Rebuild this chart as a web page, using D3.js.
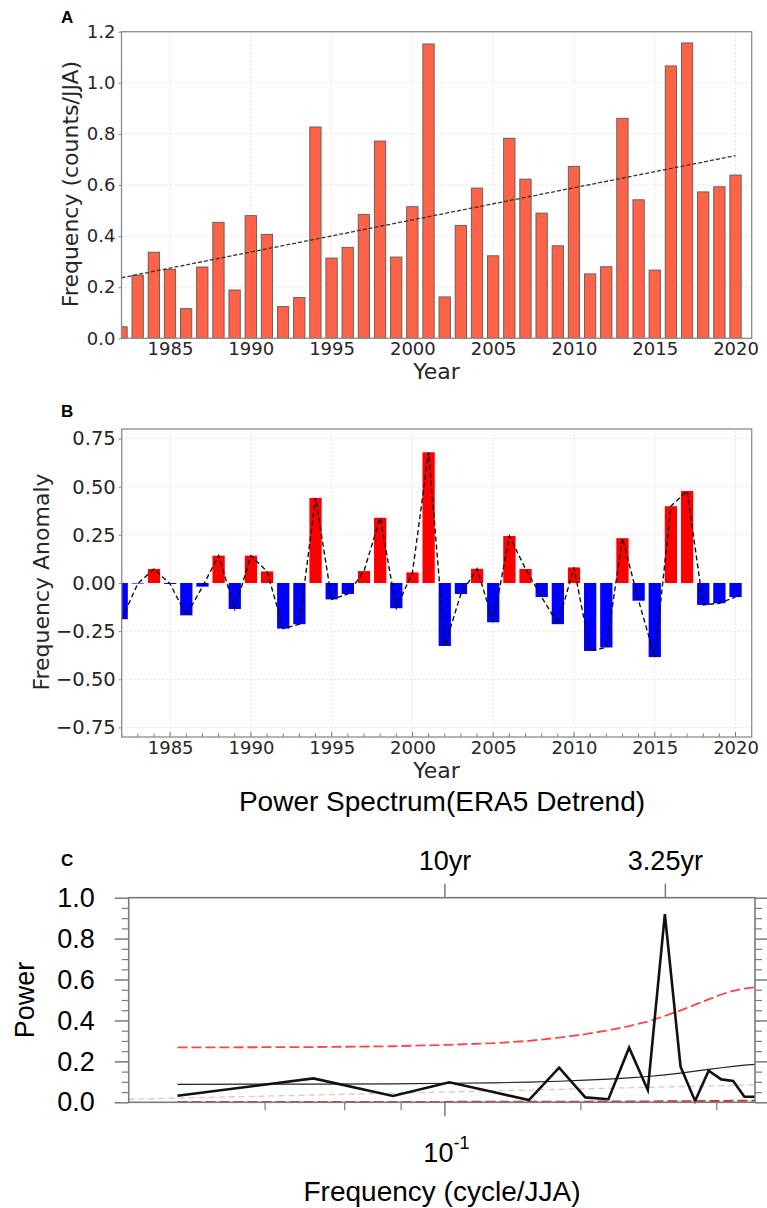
<!DOCTYPE html>
<html>
<head>
<meta charset="utf-8">
<script src="https://cdn.jsdelivr.net/npm/d3@7"></script>
<style>
  body { margin: 0; background: #fff; }
  svg { display: block; }
</style>
</head>
<body>
<svg id="chart" width="767" height="1208"></svg>
<script>
  // ===== 数据 =====
  var years = [1982, 1983, 1984, 1985, 1986, 1987, 1988, 1989, 1990, 1991, 1992, 1993, 1994,
    1995, 1996, 1997, 1998, 1999, 2000, 2001, 2002, 2003, 2004, 2005, 2006, 2007, 2008,
    2009, 2010, 2011, 2012, 2013, 2014, 2015, 2016, 2017, 2018, 2019, 2020];

  // A: 频次 (counts/JJA)
  var freqA = [0.045, 0.247, 0.337, 0.270, 0.116, 0.279, 0.454, 0.189, 0.480, 0.407, 0.124, 0.160, 0.827,
    0.314, 0.356, 0.485, 0.772, 0.318, 0.515, 1.152, 0.162, 0.442, 0.588, 0.323, 0.783, 0.623, 0.490,
    0.362, 0.673, 0.252, 0.280, 0.861, 0.542, 0.267, 1.066, 1.156, 0.573, 0.593, 0.639];
  var trendYears = [1982, 2020];
  var trendVals = [0.237, 0.715];

  // B: 去趋势距平
  var anomB = [-0.188, -0.003, 0.073, -0.005, -0.168, -0.019, 0.142, -0.135, 0.142, 0.060, -0.237, -0.214, 0.442,
    -0.085, -0.057, 0.062, 0.339, -0.131, 0.055, 0.679, -0.327, -0.057, 0.074, -0.204, 0.244, 0.073, -0.073,
    -0.214, 0.081, -0.353, -0.335, 0.233, -0.092, -0.385, 0.399, 0.478, -0.114, -0.105, -0.073];

  var yearTicks = [1985, 1990, 1995, 2000, 2005, 2010, 2015, 2020];
  var yTicksA = [0, 0.2, 0.4, 0.6, 0.8, 1.0, 1.2];
  var yTicksB = [-0.75, -0.5, -0.25, 0, 0.25, 0.5, 0.75];

  // C: 功率谱
  var nYears = 39;
  var harmonics = [1, 2, 3, 4, 5, 6, 7, 8, 9, 10, 11, 12, 13, 14, 15, 16, 17, 18, 19];
  var power = [0.032, 0.117, 0.031, 0.098, 0.050, 0.011, 0.169, 0.024, 0.015, 0.267,
    0.060, 0.920, 0.174, 0.006, 0.154, 0.112, 0.104, 0.027, 0.027];
  var redNoise = [0.088, 0.089, 0.090, 0.093, 0.095, 0.099, 0.103, 0.108, 0.113, 0.119,
    0.126, 0.134, 0.143, 0.152, 0.161, 0.169, 0.176, 0.182, 0.185];
  var upper95 = [0.268, 0.270, 0.274, 0.281, 0.289, 0.300, 0.316, 0.333, 0.352, 0.372,
    0.395, 0.422, 0.449, 0.477, 0.503, 0.527, 0.545, 0.556, 0.562];
  var lower5 = [0.002, 0.002, 0.002, 0.002, 0.003, 0.003, 0.003, 0.003, 0.004, 0.004,
    0.004, 0.005, 0.005, 0.005, 0.006, 0.006, 0.007, 0.007, 0.008];
  var grayFreq = [0.02, 19 / 39];
  var grayVals = [0.015, 0.085];
  var periodTicks = [10, 3.25];
  var periodLabels = ['10yr', '3.25yr'];
  var yTicksC = [0, 0.2, 0.4, 0.6, 0.8, 1.0];
  var minorFreqTicks = [0.04, 0.06, 0.08, 0.2, 0.4];

  var MPL_FONT = '"DejaVu Sans", sans-serif';
  var NCL_FONT = '"Liberation Sans", Arial, sans-serif';
  var TXT = '#262626';
  var FRAME = '#8c8c8c';

  var svg = d3.select('#chart');

  // 面板标签
  [['A', 23], ['B', 417], ['C', 866]].forEach(function (p) {
    svg.append('text').attr('x', 61).attr('y', p[1]).text(p[0])
      .style('font-family', NCL_FONT).style('font-weight', 'bold').style('font-size', '17px');
  });

  // ===== 面板 A / B 共用 =====
  function matplotlibFrame(g, x, y, yTicks, yFmt, yFont, clipId) {
    var x0 = x.range()[0], x1 = x.range()[1];
    var y0 = y.range()[0], y1 = y.range()[1];

    // 网格
    g.append('g').selectAll('line').data(yearTicks).join('line')
      .attr('x1', function (d) { return x(d); }).attr('x2', function (d) { return x(d); })
      .attr('y1', y0).attr('y2', y1)
      .attr('stroke', '#dcdcdc').attr('stroke-width', 0.8).attr('stroke-dasharray', '2,2');
    g.append('g').selectAll('line').data(yTicks).join('line')
      .attr('x1', x0).attr('x2', x1)
      .attr('y1', function (d) { return y(d); }).attr('y2', function (d) { return y(d); })
      .attr('stroke', '#dcdcdc').attr('stroke-width', 0.8).attr('stroke-dasharray', '2,2');

    g.append('clipPath').attr('id', clipId).append('rect')
      .attr('x', x0).attr('y', y1).attr('width', x1 - x0).attr('height', y0 - y1);

    // x 轴
    var xa = g.append('g').attr('transform', 'translate(0,' + y0 + ')')
      .call(d3.axisBottom(x).tickValues(yearTicks).tickFormat(d3.format('d')).tickSize(0));
    xa.select('.domain').remove();
    xa.selectAll('text').attr('dy', null).attr('y', 16.5)
      .attr('fill', TXT).style('font-family', MPL_FONT).style('font-size', '18px');

    // y 轴
    var ya = g.append('g').attr('transform', 'translate(' + x0 + ',0)')
      .call(d3.axisLeft(y).tickValues(yTicks).tickFormat(d3.format(yFmt)).tickSize(3).tickPadding(3));
    ya.select('.domain').remove();
    ya.selectAll('line').attr('stroke', FRAME);
    ya.selectAll('text').attr('fill', TXT).style('font-family', MPL_FONT).style('font-size', yFont);
  }

  function drawFrame(g, x, y) {
    var x0 = x.range()[0], x1 = x.range()[1];
    var y0 = y.range()[0], y1 = y.range()[1];
    g.append('rect').attr('x', x0).attr('y', y1).attr('width', x1 - x0).attr('height', y0 - y1)
      .attr('fill', 'none').attr('stroke', FRAME).attr('stroke-width', 1.3);
  }

  // ===== 面板 A =====
  var xA = d3.scaleLinear().domain([1982, 2021]).range([121.5, 751.7]);
  var yA = d3.scaleLinear().domain([0, 1.2]).range([338.3, 31.7]);
  var gA = svg.append('g');
  matplotlibFrame(gA, xA, yA, yTicksA, '.1f', '18px', 'clipA');

  var bwA = 0.7;
  gA.append('g').attr('clip-path', 'url(#clipA)')
    .selectAll('rect').data(years).join('rect')
    .attr('x', function (d) { return xA(d - bwA / 2); })
    .attr('width', xA(bwA) - xA(0))
    .attr('y', function (d, i) { return yA(freqA[i]); })
    .attr('height', function (d, i) { return yA(0) - yA(freqA[i]); })
    .attr('fill', '#ff6347').attr('stroke', '#5a5a5a').attr('stroke-width', 0.9);

  gA.append('line')
    .attr('x1', xA(trendYears[0])).attr('y1', yA(trendVals[0]))
    .attr('x2', xA(trendYears[1])).attr('y2', yA(trendVals[1]))
    .attr('stroke', '#333').attr('stroke-width', 1.3).attr('stroke-dasharray', '4,2');

  drawFrame(gA, xA, yA);

  gA.append('text').attr('x', 436.5).attr('y', 379).attr('text-anchor', 'middle')
    .attr('fill', TXT).style('font-family', MPL_FONT).style('font-size', '22px').text('Year');
  gA.append('text').attr('transform', 'translate(78,184) rotate(-90)').attr('text-anchor', 'middle')
    .attr('fill', TXT).style('font-family', MPL_FONT).style('font-size', '22px').text('Frequency (counts/JJA)');

  // ===== 面板 B =====
  var xB = d3.scaleLinear().domain([1982, 2021]).range([121.7, 751.7]);
  var yB = d3.scaleLinear().domain([-0.8, 0.8]).range([737, 429]);
  var gB = svg.append('g');
  matplotlibFrame(gB, xB, yB, yTicksB, '.2f', '19.5px', 'clipB');

  var bwB = 0.76;
  gB.append('g').attr('clip-path', 'url(#clipB)')
    .selectAll('rect').data(years).join('rect')
    .attr('x', function (d) { return xB(d - bwB / 2); })
    .attr('width', xB(bwB) - xB(0))
    .attr('y', function (d, i) { return yB(Math.max(anomB[i], 0)); })
    .attr('height', function (d, i) { return Math.abs(yB(anomB[i]) - yB(0)); })
    .attr('fill', function (d, i) { return anomB[i] >= 0 ? '#ff0000' : '#0000ff'; });

  gB.append('path')
    .datum(years)
    .attr('d', d3.line()
      .x(function (d) { return xB(d); })
      .y(function (d, i) { return yB(anomB[i]); }))
    .attr('fill', 'none').attr('stroke', '#111').attr('stroke-width', 1.4).attr('stroke-dasharray', '5,3');

  // 每年的小刻度（朝内）
  gB.append('g').selectAll('line').data(years).join('line')
    .attr('x1', function (d) { return xB(d); }).attr('x2', function (d) { return xB(d); })
    .attr('y1', yB.range()[0]).attr('y2', function (d) { return yB.range()[0] - (d % 5 === 0 ? 5 : 3.5); })
    .attr('stroke', '#666').attr('stroke-width', 0.9);

  drawFrame(gB, xB, yB);

  gB.append('text').attr('x', 436.5).attr('y', 777.5).attr('text-anchor', 'middle')
    .attr('fill', TXT).style('font-family', MPL_FONT).style('font-size', '22px').text('Year');
  gB.append('text').attr('transform', 'translate(49,582) rotate(-90)').attr('text-anchor', 'middle')
    .attr('fill', TXT).style('font-family', MPL_FONT).style('font-size', '22px').text('Frequency Anomaly');

  // ===== 面板 C: 功率谱 =====
  var xC = d3.scaleLog().domain([0.02, 19 / 39]).range([128.7, 755]);
  var yC = d3.scaleLinear().domain([0, 1]).range([1102.3, 897.7]);
  var gC = svg.append('g');
  var AX = '#7a7a7a';

  gC.append('text').attr('x', 442).attr('y', 811).attr('text-anchor', 'middle')
    .style('font-family', NCL_FONT).style('font-size', '28px').text('Power Spectrum(ERA5 Detrend)');

  var specData = harmonics.map(function (k, i) {
    return { f: k / nYears, p: power[i], r: redNoise[i], u: upper95[i], l: lower5[i] };
  });

  function specLine(key) {
    return d3.line().x(function (d) { return xC(d.f); }).y(function (d) { return yC(d[key]); });
  }

  // 灰色虚线
  gC.append('path')
    .datum(grayFreq.map(function (f, i) { return { f: f, v: grayVals[i] }; }))
    .attr('d', specLine('v'))
    .attr('fill', 'none').attr('stroke', '#cfcfcf').attr('stroke-width', 1.4).attr('stroke-dasharray', '6,4');

  gC.append('path').datum(specData).attr('d', specLine('l'))
    .attr('fill', 'none').attr('stroke', '#d42a2a').attr('stroke-width', 2).attr('stroke-dasharray', '10,4');
  gC.append('path').datum(specData).attr('d', specLine('u'))
    .attr('fill', 'none').attr('stroke', '#ff4444').attr('stroke-width', 1.8).attr('stroke-dasharray', '10,4');
  gC.append('path').datum(specData).attr('d', specLine('r'))
    .attr('fill', 'none').attr('stroke', '#222').attr('stroke-width', 1.2);
  gC.append('path').datum(specData).attr('d', specLine('p'))
    .attr('fill', 'none').attr('stroke', '#111').attr('stroke-width', 2.6).attr('stroke-linejoin', 'miter');

  // 边框
  var cx0 = xC.range()[0], cx1 = xC.range()[1], cy0 = yC.range()[0], cy1 = yC.range()[1];
  gC.append('rect').attr('x', cx0).attr('y', cy1).attr('width', cx1 - cx0).attr('height', cy0 - cy1)
    .attr('fill', 'none').attr('stroke', AX).attr('stroke-width', 1.6);

  var minorY = d3.range(0.05, 1, 0.05).filter(function (v) { return Math.abs(v * 5 - Math.round(v * 5)) > 1e-6; });

  // 左轴
  var cl = gC.append('g').attr('transform', 'translate(' + cx0 + ',0)')
    .call(d3.axisLeft(yC).tickValues(yTicksC).tickFormat(d3.format('.1f')).tickSize(14).tickPadding(20));
  cl.select('.domain').remove();
  cl.selectAll('line').attr('stroke', AX).attr('stroke-width', 1.5);
  cl.selectAll('text').attr('fill', '#000').style('font-family', NCL_FONT).style('font-size', '27px');
  var clm = gC.append('g').attr('transform', 'translate(' + cx0 + ',0)')
    .call(d3.axisLeft(yC).tickValues(minorY).tickFormat('').tickSize(7));
  clm.select('.domain').remove();
  clm.selectAll('line').attr('stroke', AX).attr('stroke-width', 1.2);

  // 右轴
  var cr = gC.append('g').attr('transform', 'translate(' + cx1 + ',0)')
    .call(d3.axisRight(yC).tickValues(yTicksC).tickFormat('').tickSize(12));
  cr.select('.domain').remove();
  cr.selectAll('line').attr('stroke', AX).attr('stroke-width', 1.5);
  var crm = gC.append('g').attr('transform', 'translate(' + cx1 + ',0)')
    .call(d3.axisRight(yC).tickValues(minorY).tickFormat('').tickSize(7));
  crm.select('.domain').remove();
  crm.selectAll('line').attr('stroke', AX).attr('stroke-width', 1.2);

  // 下轴
  var cb = gC.append('g').attr('transform', 'translate(0,' + cy0 + ')')
    .call(d3.axisBottom(xC).tickValues([0.1]).tickFormat('').tickSize(14));
  cb.select('.domain').remove();
  cb.selectAll('line').attr('stroke', AX).attr('stroke-width', 1.5);
  var cbm = gC.append('g').attr('transform', 'translate(0,' + cy0 + ')')
    .call(d3.axisBottom(xC).tickValues(minorFreqTicks).tickFormat('').tickSize(8));
  cbm.select('.domain').remove();
  cbm.selectAll('line').attr('stroke', AX).attr('stroke-width', 1.2);

  var lab = gC.append('text').attr('x', xC(0.1) + 2).attr('y', 1161.7).attr('text-anchor', 'middle')
    .style('font-family', NCL_FONT).style('font-size', '27px');
  lab.append('tspan').text('10');
  lab.append('tspan').attr('dy', -13).style('font-size', '18px').text('-1');

  // 上轴：周期
  var ct = gC.append('g').attr('transform', 'translate(0,' + cy1 + ')')
    .call(d3.axisTop(xC).tickValues(periodTicks.map(function (p) { return 1 / p; }))
      .tickFormat(function (d, i) { return periodLabels[i]; }).tickSize(14).tickPadding(14));
  ct.select('.domain').remove();
  ct.selectAll('line').attr('stroke', AX).attr('stroke-width', 1.5);
  ct.selectAll('text').attr('fill', '#000').style('font-family', NCL_FONT).style('font-size', '27px');

  gC.append('text').attr('transform', 'translate(34,1000) rotate(-90)').attr('text-anchor', 'middle')
    .style('font-family', NCL_FONT).style('font-size', '27px').text('Power');
  gC.append('text').attr('x', 442).attr('y', 1201).attr('text-anchor', 'middle')
    .style('font-family', NCL_FONT).style('font-size', '28px').text('Frequency (cycle/JJA)');
</script>
</body>
</html>
